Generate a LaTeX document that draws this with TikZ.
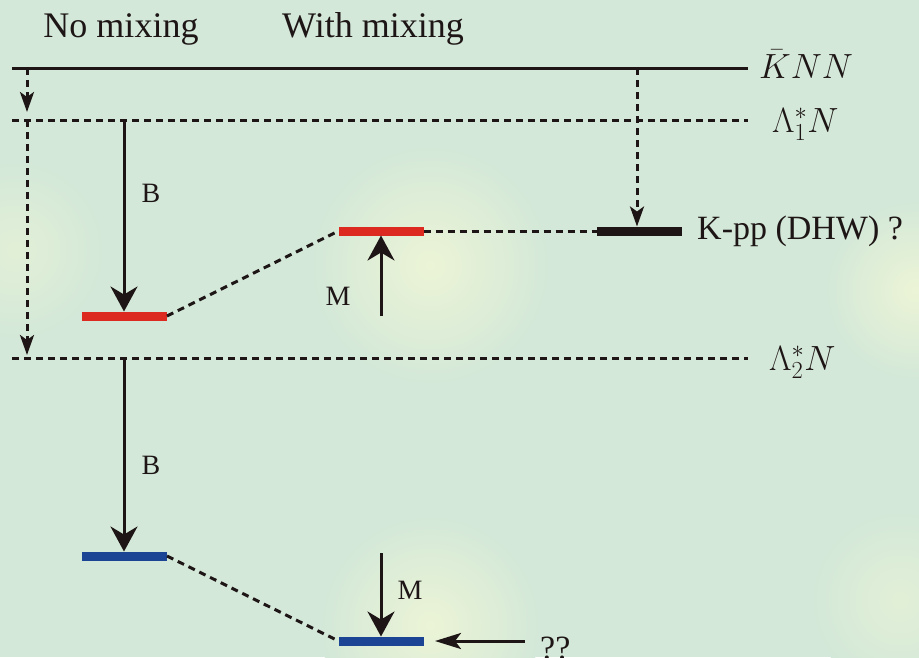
\RequirePackage{fix-cm}
\documentclass[tikz,border=0pt]{standalone}
\usepackage{fontspec}
\setmainfont{Liberation Serif}
\usetikzlibrary{arrows.meta,positioning}
\definecolor{bgc}{RGB}{211,232,216}
\definecolor{glow}{RGB}{236,244,214}
\definecolor{barred}{RGB}{220,42,32}
\definecolor{barblue}{RGB}{28,68,148}
\definecolor{ink}{RGB}{30,22,22}
\tikzset{
  lvl/.style={line width=3pt, draw=ink},
  dlvl/.style={line width=3pt, draw=ink, dash pattern=on 7pt off 5pt},
  bar/.style={rectangle, minimum width=85pt, minimum height=9pt, inner sep=0pt, outer sep=0pt},
  arr/.style={line width=3pt, draw=ink, -{Stealth[length=25pt,width=27pt,inset=8pt]}},
  darr/.style={line width=3pt, draw=ink, dash pattern=on 7pt off 5pt, -{Stealth[length=20pt,width=14pt,inset=5pt]}},
  harr/.style={line width=3pt, draw=ink, -{Stealth[length=26pt,width=16pt,inset=6pt]}},
  txt/.style={font=\fontsize{34}{40}\selectfont, text=ink, inner sep=0pt},
  ttxt/.style={font=\fontsize{36}{42}\selectfont, text=ink, inner sep=0pt},
  stxt/.style={font=\fontsize{28}{32}\selectfont, text=ink, inner sep=0pt},
  mtxt/.style={font=\fontsize{35}{40}\selectfont, text=ink, inner sep=0pt, anchor=west}
}
\begin{document}
\begin{tikzpicture}[x=1pt,y=-1pt]
\useasboundingbox (0,0) rectangle (919,657);
\fill[bgc] (0,0) rectangle (919,657);
\begin{scope}
\clip (0,0) rectangle (919,657);
\shade[inner color=glow, outer color=bgc] (430,265) circle (120);
\shade[inner color=glow, outer color=bgc] (430,625) circle (110);
\shade[inner color=glow!60!bgc, outer color=bgc] (15,250) circle (90);
\shade[inner color=glow, outer color=bgc] (915,290) circle (90);
\shade[inner color=glow!60!bgc, outer color=bgc] (900,600) circle (90);
\end{scope}

% titles
\node[ttxt, anchor=base] (nomix) at (121,37) {No mixing};
\node[ttxt, anchor=base] (wmix) at (373,37) {With mixing};

% levels
\coordinate (knnL) at (12,68);
\coordinate (knnR) at (748,68);
\coordinate (l1L) at (12,120);
\coordinate (l1R) at (748,120);
\coordinate (l2L) at (12,358);
\coordinate (l2R) at (748,358);
\draw[lvl] (knnL) -- (knnR);
\draw[dlvl] (l1L) -- (l1R);
\draw[dlvl] (l2L) -- (l2R);
\node[mtxt, anchor=base west] (knn) at (759,78) {$\bar{K}NN$};
\node[mtxt, anchor=base west] (lam1) at (772,132) {$\Lambda_1^*N$};
\node[mtxt, anchor=base west] (lam2) at (769,370) {$\Lambda_2^*N$};

% bars
\node[bar, fill=barred] (r1) at (124.5,316) {};
\node[bar, fill=barred] (r2) at (381,231) {};
\node[bar, fill=ink] (kb) at (639,231) {};
\node[bar, fill=barblue] (b1) at (124.5,556) {};
\node[bar, fill=barblue] (b2) at (381,641) {};
\node[txt, anchor=west] (kpp) at (697,231) {K-pp (DHW) ?};

% left dashed arrows
\coordinate (a1s) at (27,68);
\coordinate (a1e) at (27,112);
\coordinate (a2s) at (27,120);
\coordinate (a2e) at (27,355);
\draw[darr] (a1s) -- (a1e);
\draw[darr] (a2s) -- (a2e);

% B arrows
\coordinate (bs1) at (124,120);
\coordinate (bs2) at (124,358);
\draw[arr] (bs1) -- (r1.north -| bs1);
\draw[arr] (bs2) -- (b1.north -| bs2);
\node[stxt] (B1) at (151,193) {B};
\node[stxt] (B2) at (151,465) {B};

% mixing dashed
\draw[dlvl] (r1.east) -- (r2.west);
\draw[dlvl] (r2.east) -- (kb.west);
\draw[dlvl] (b1.east) -- (b2.west);

% M arrows
\coordinate (m1s) at (381,316);
\draw[arr] (m1s) -- (r2.south -| m1s);
\node[stxt] (M1) at (338,296) {M};
\coordinate (m2s) at (381,553);
\draw[arr] (m2s) -- (b2.north -| m2s);
\node[stxt] (M2) at (410,590) {M};

% K-pp dashed arrow
\coordinate (ks) at (637,68);
\draw[darr] (ks) -- (kb.north -| ks);

% ?? arrow
\coordinate (qs) at (525,641);
\coordinate (qe) at (435,641);
\draw[harr] (qs) -- (qe);
\node[txt, anchor=west] (qq) at (540,648) {??};
\end{tikzpicture}
\end{document}
